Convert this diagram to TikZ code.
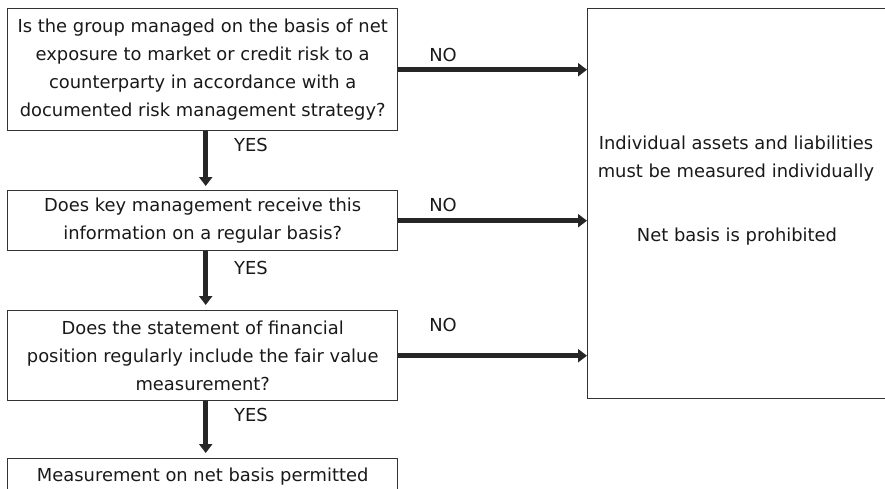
\documentclass[tikz,border=0pt]{standalone}
\usepackage{fontspec}
\setmainfont{DejaVu Sans}
\usetikzlibrary{arrows.meta}
\begin{document}
\begin{tikzpicture}[x=1pt,y=-1pt,
  txt/.style={font=\fontsize{17.9}{28}\selectfont, text=black!90},
  box/.style={txt, draw=black!80, line width=1.4pt, align=center, inner sep=0pt, anchor=north west},
  arr/.style={line width=4.5pt, draw=black!85, -{Triangle[width=13pt,length=9pt]}},
]
\useasboundingbox (0,0) rectangle (885,488);
\clip (0,0) rectangle (885,488);
\node[box, minimum width=390pt, minimum height=122pt] (b1) at (7,8)
  {Is the group managed on the basis of net\\exposure to market or credit risk to a\\counterparty in accordance with a\\documented risk management strategy?};
\node[box, minimum width=390pt, minimum height=60pt] (b2) at (7,190)
  {Does key management receive this\\information on a regular basis?};
\node[box, minimum width=390pt, minimum height=90pt] (b3) at (7,310)
  {Does the statement of financial\\position regularly include the fair value\\measurement?};
\node[box, minimum width=390pt, minimum height=36pt] (b4) at (7,458)
  {Measurement on net basis permitted};
\node[box, minimum width=310pt, minimum height=390pt] (r) at (587,8) {};
\node[txt, align=center] (rt) at (736,159) {Individual assets and liabilities\\must be measured individually};
\node[txt] (rn) at (737,237) {Net basis is prohibited};

\draw[arr] (b1.east) -- (b1.east -| r.west);
\draw[arr] (b2.east) -- (b2.east -| r.west);
\draw[arr] (b3.east) -- (b3.east -| r.west);
\node[txt] (no1) at (443,55) {NO};
\node[txt] (no2) at (443,205) {NO};
\node[txt] (no3) at (443,325) {NO};

\draw[arr, shorten >=4pt] ([xshift=3pt]b1.south) -- ([xshift=3pt]b2.north);
\draw[arr, shorten >=5pt] ([xshift=3pt]b2.south) -- ([xshift=3pt]b3.north);
\draw[arr, shorten >=5pt] ([xshift=3pt]b3.south) -- ([xshift=3pt]b4.north);
\node[txt] (y1) at (251,145) {YES};
\node[txt] (y2) at (251,268) {YES};
\node[txt] (y3) at (251,415) {YES};
\end{tikzpicture}
\end{document}
